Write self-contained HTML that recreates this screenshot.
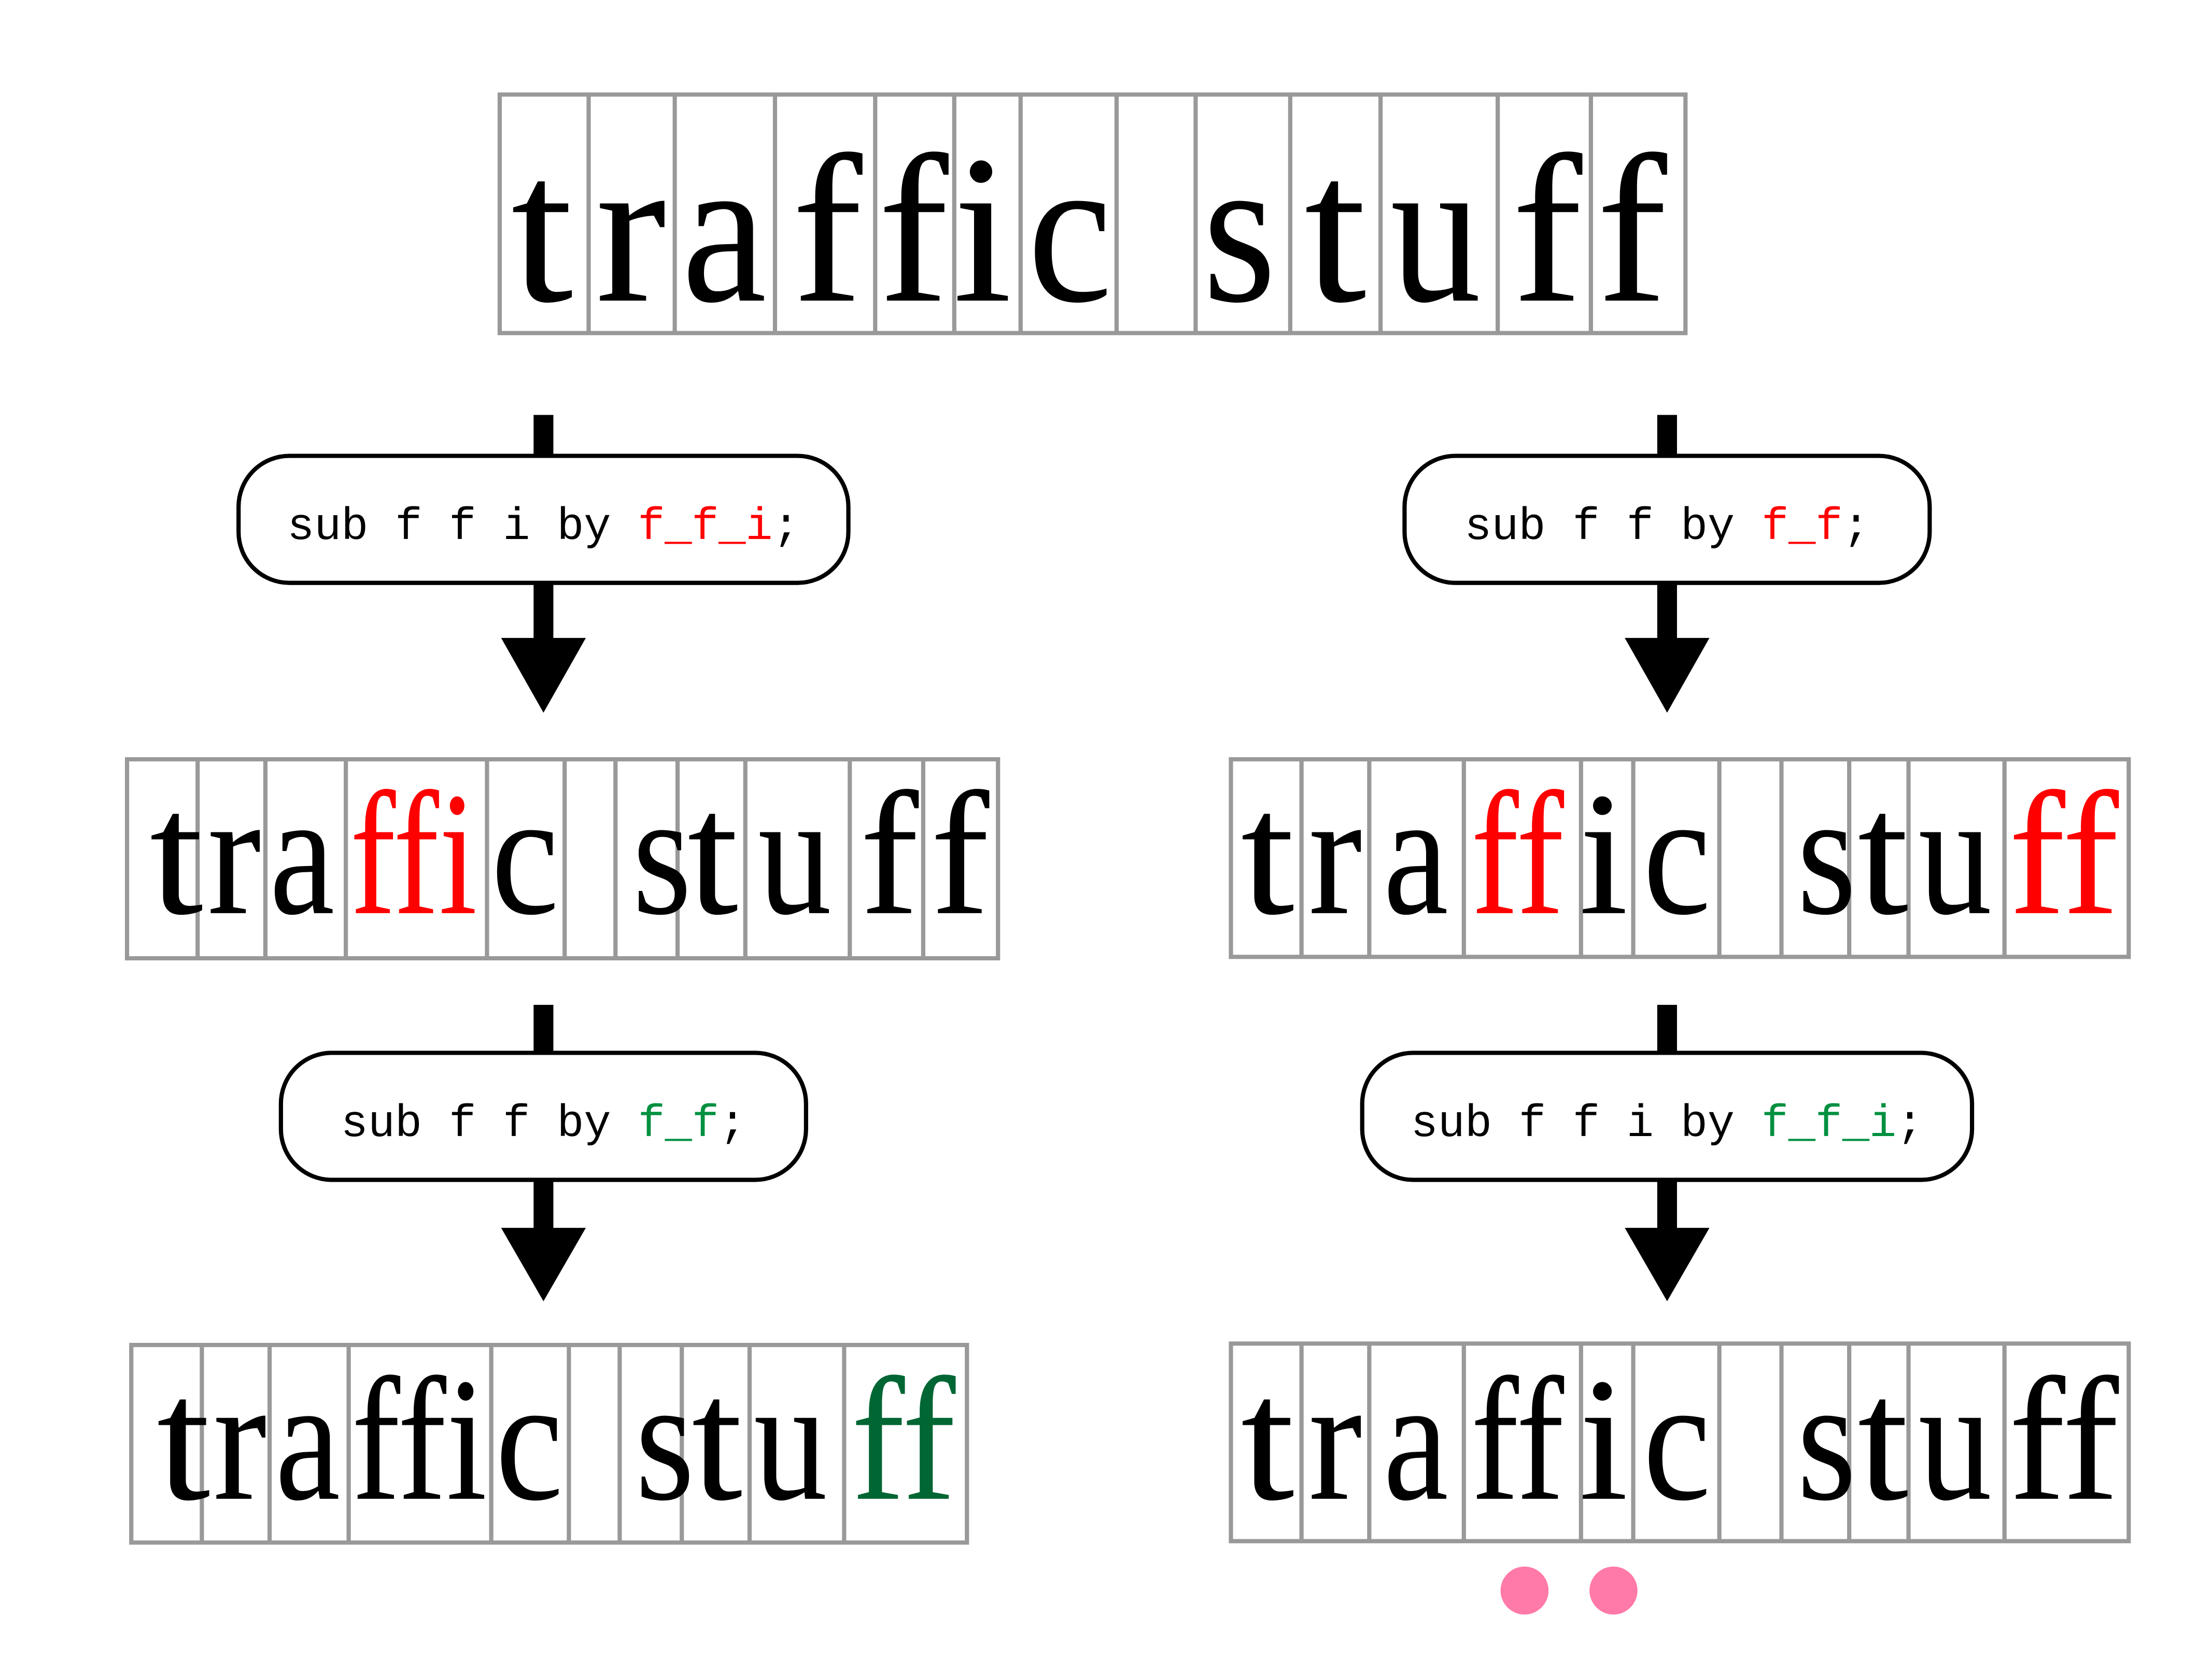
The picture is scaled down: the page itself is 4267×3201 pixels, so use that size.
<!DOCTYPE html>
<html><head><meta charset="utf-8"><style>
html,body{margin:0;padding:0;background:#fff;}
svg{display:block;}
.g{font-family:"Liberation Serif",serif;}
.m{font-family:"Liberation Mono",monospace;font-size:32px;}
</style></head><body>
<svg width="4267" height="3201" viewBox="0 0 1567 1175.5" preserveAspectRatio="none" xmlns="http://www.w3.org/2000/svg">
<rect x="0" y="0" width="1567" height="1176" fill="#fff"/>
<g fill="none" stroke="#999" stroke-width="3">
<rect x="354" y="67" width="840" height="169"/>
<path d="M417 67V236M478 67V236M549 67V236M620 67V236M676 67V236M723 67V236M791 67V236M847 67V236M914 67V236M978 67V236M1061 67V236M1127 67V236"/>
<rect x="90" y="538" width="617" height="141"/>
<path d="M140 538V679M188 538V679M245 538V679M345 538V679M400 538V679M436 538V679M480 538V679M528 538V679M602 538V679M654 538V679"/>
<rect x="872" y="538" width="636" height="140"/>
<path d="M922 538V678M970 538V678M1037 538V678M1120 538V678M1157 538V678M1218 538V678M1262 538V678M1310 538V678M1352 538V678M1420 538V678"/>
<rect x="93" y="953" width="592" height="140"/>
<path d="M143 953V1093M191 953V1093M247 953V1093M348 953V1093M403 953V1093M439 953V1093M483 953V1093M531 953V1093M598 953V1093"/>
<rect x="872" y="952" width="636" height="140"/>
<path d="M922 952V1092M970 952V1092M1037 952V1092M1120 952V1092M1157 952V1092M1218 952V1092M1262 952V1092M1310 952V1092M1352 952V1092M1420 952V1092"/>
</g>
<g class="g" font-size="150" text-anchor="middle" fill="#000">
<text x="384" y="213" textLength="44" lengthAdjust="spacingAndGlyphs">t</text><text x="447" y="213" textLength="50" lengthAdjust="spacingAndGlyphs">r</text><text x="513" y="213" textLength="60" lengthAdjust="spacingAndGlyphs">a</text><text x="586" y="213">f</text><text x="647" y="213">f</text><text x="696" y="213">i</text><text x="758" y="213" textLength="60" lengthAdjust="spacingAndGlyphs">c</text><text x="878" y="213" textLength="52" lengthAdjust="spacingAndGlyphs">s</text><text x="946" y="213" textLength="44" lengthAdjust="spacingAndGlyphs">t</text><text x="1017" y="213" textLength="64" lengthAdjust="spacingAndGlyphs">u</text><text x="1096" y="213">f</text><text x="1156" y="213">f</text>
</g>
<g class="g" font-size="125" text-anchor="middle" fill="#000">
<text x="125" y="647" textLength="38" lengthAdjust="spacingAndGlyphs">t</text><text x="166" y="647" textLength="38" lengthAdjust="spacingAndGlyphs">r</text><text x="214" y="647" textLength="46" lengthAdjust="spacingAndGlyphs">a</text>
<text x="293" y="647" fill="#f00" textLength="90" lengthAdjust="spacingAndGlyphs">ffi</text>
<text x="372" y="647" textLength="48" lengthAdjust="spacingAndGlyphs">c</text><text x="469" y="647" textLength="42" lengthAdjust="spacingAndGlyphs">s</text><text x="505" y="647" textLength="36" lengthAdjust="spacingAndGlyphs">t</text><text x="563" y="647" textLength="52" lengthAdjust="spacingAndGlyphs">u</text><text x="630" y="647">f</text><text x="680" y="647">f</text>

<text x="898" y="647" textLength="38" lengthAdjust="spacingAndGlyphs">t</text><text x="946" y="647" textLength="38" lengthAdjust="spacingAndGlyphs">r</text><text x="1003" y="647" textLength="46" lengthAdjust="spacingAndGlyphs">a</text>
<text x="1075" y="647" fill="#f00" textLength="66" lengthAdjust="spacingAndGlyphs">ff</text>
<text x="1136" y="647">i</text><text x="1188" y="647" textLength="48" lengthAdjust="spacingAndGlyphs">c</text><text x="1294" y="647" textLength="42" lengthAdjust="spacingAndGlyphs">s</text><text x="1334" y="647" textLength="36" lengthAdjust="spacingAndGlyphs">t</text><text x="1385" y="647" textLength="52" lengthAdjust="spacingAndGlyphs">u</text>
<text x="1462" y="647" fill="#f00" textLength="78" lengthAdjust="spacingAndGlyphs">ff</text>

<text x="130" y="1062" textLength="38" lengthAdjust="spacingAndGlyphs">t</text><text x="170" y="1062" textLength="38" lengthAdjust="spacingAndGlyphs">r</text><text x="218" y="1062" textLength="46" lengthAdjust="spacingAndGlyphs">a</text>
<text x="297" y="1062" textLength="96" lengthAdjust="spacingAndGlyphs">ffi</text>
<text x="375" y="1062" textLength="48" lengthAdjust="spacingAndGlyphs">c</text><text x="471" y="1062" textLength="42" lengthAdjust="spacingAndGlyphs">s</text><text x="508" y="1062" textLength="36" lengthAdjust="spacingAndGlyphs">t</text><text x="560" y="1062" textLength="52" lengthAdjust="spacingAndGlyphs">u</text>
<text x="640" y="1062" fill="#006633" textLength="74" lengthAdjust="spacingAndGlyphs">ff</text>

<text x="898" y="1062" textLength="38" lengthAdjust="spacingAndGlyphs">t</text><text x="946" y="1062" textLength="38" lengthAdjust="spacingAndGlyphs">r</text><text x="1003" y="1062" textLength="46" lengthAdjust="spacingAndGlyphs">a</text>
<text x="1075" y="1062" textLength="66" lengthAdjust="spacingAndGlyphs">ff</text>
<text x="1136" y="1062">i</text><text x="1188" y="1062" textLength="48" lengthAdjust="spacingAndGlyphs">c</text><text x="1294" y="1062" textLength="42" lengthAdjust="spacingAndGlyphs">s</text><text x="1334" y="1062" textLength="36" lengthAdjust="spacingAndGlyphs">t</text><text x="1385" y="1062" textLength="52" lengthAdjust="spacingAndGlyphs">u</text>
<text x="1462" y="1062" textLength="78" lengthAdjust="spacingAndGlyphs">ff</text>
</g>
<g fill="#000">
<rect x="378" y="294" width="14" height="160"/><polygon points="355,452 415,452 385,505"/>
<rect x="1174" y="294" width="14" height="160"/><polygon points="1151,452 1211,452 1181,505"/>
<rect x="378" y="712" width="14" height="160"/><polygon points="355,870 415,870 385,922"/>
<rect x="1174" y="712" width="14" height="160"/><polygon points="1151,870 1211,870 1181,922"/>
</g>
<g fill="#fff" stroke="#000" stroke-width="3">
<rect x="169" y="323" width="432" height="90" rx="36"/>
<rect x="995" y="323" width="372" height="90" rx="36"/>
<rect x="199" y="746" width="372" height="90" rx="36"/>
<rect x="965" y="746" width="432" height="90" rx="36"/>
</g>
<g class="m" fill="#000" text-anchor="middle">
<text x="385" y="382" textLength="363">sub f f i by <tspan fill="#f00">f_f_i</tspan>;</text>
<text x="1181" y="382" textLength="287">sub f f by <tspan fill="#f00">f_f</tspan>;</text>
<text x="385" y="805" textLength="287">sub f f by <tspan fill="#009040">f_f</tspan>;</text>
<text x="1181" y="805" textLength="363">sub f f i by <tspan fill="#009040">f_f_i</tspan>;</text>
</g>
<circle cx="1080" cy="1127" r="17" fill="#ff7aa8"/>
<circle cx="1143" cy="1127" r="17" fill="#ff7aa8"/>
</svg>
</body></html>
